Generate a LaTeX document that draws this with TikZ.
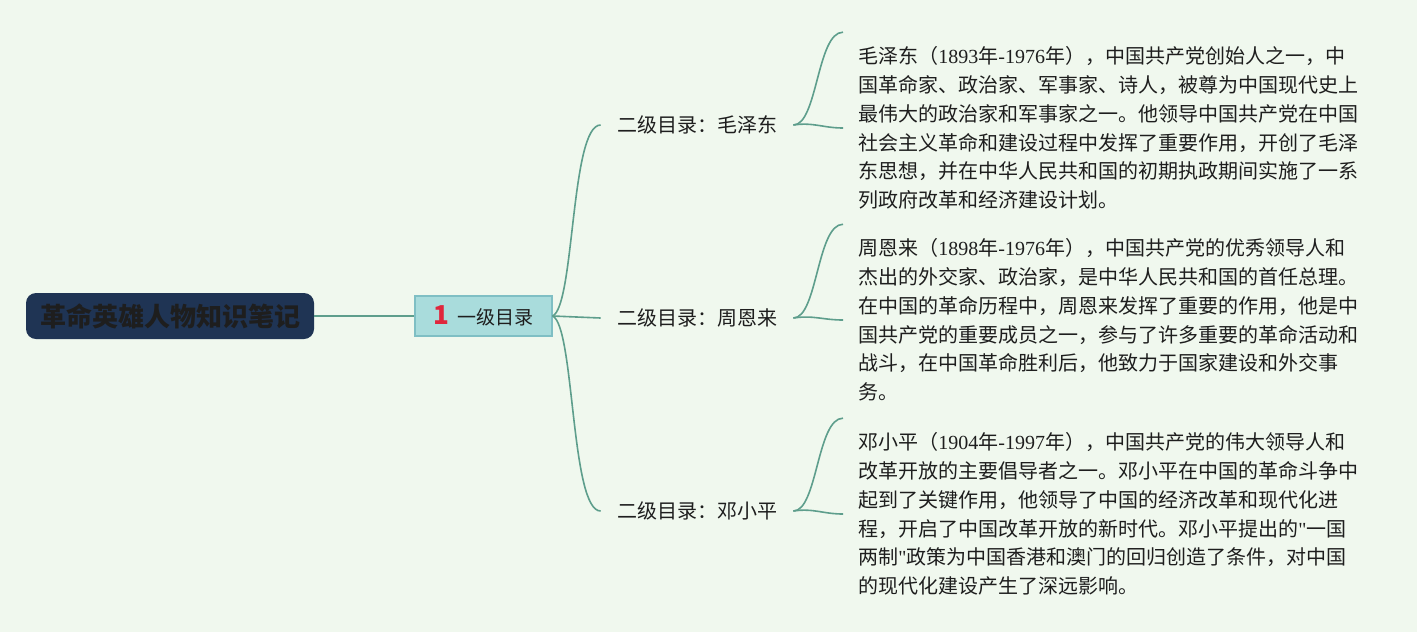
\documentclass[tikz,border=0pt]{standalone}
\usepackage{fontspec}
\setmainfont{Noto Sans CJK SC}
\newfontfamily\numfont{Liberation Serif}
\usetikzlibrary{positioning}

\definecolor{bgmint}{HTML}{F0F8EE}
\definecolor{linegreen}{HTML}{5E9E8C}
\definecolor{rootnavy}{HTML}{1F3454}
\definecolor{lvlfill}{HTML}{A9DCDC}
\definecolor{lvlborder}{HTML}{7FBFC4}
\definecolor{numred}{HTML}{E0263C}
\definecolor{textdark}{HTML}{1E1E1E}

\newcommand{\yr}[1]{{\numfont #1}}
\newcommand{\sq}{{\numfont"}}

\begin{document}
\begin{tikzpicture}[x=0.5pt, y=-0.5pt,
  branch/.style={draw=linegreen, line width=0.8pt},
  rootbox/.style={fill=rootnavy, rounded corners=5pt, minimum width=144pt,
    minimum height=23pt, font=\fontsize{13}{13}\selectfont\bfseries, text=textdark},
  lvlbox/.style={fill=lvlfill, draw=lvlborder, line width=0.6pt, minimum width=68.5pt,
    minimum height=20pt, font=\fontsize{9.5}{9.5}\selectfont, text=textdark},
  sublabel/.style={inner xsep=8pt, inner ysep=3pt, font=\fontsize{10}{10}\selectfont, text=textdark},
  txtblock/.style={anchor=west, align=left, inner xsep=7.5pt, inner ysep=7pt,
    font=\fontsize{10}{14.4}\selectfont, text=textdark}]

  % background
  \fill[bgmint] (0,0) rectangle (1417,632);
  \useasboundingbox (0,0) rectangle (1417,632);

  % root and first level
  \node[rootbox] (root) at (170,316) {革命英雄人物知识笔记};
  \node[lvlbox] (lvl) at (483.5,316) {{\color{numred}\fontsize{13}{13}\selectfont\bfseries 1}\hspace{4pt}一级目录};
  \draw[branch] (root.east) -- (lvl.west);

  % second level labels
  \node[sublabel] (sub1) at (697,125) {二级目录：毛泽东};
  \node[sublabel] (sub2) at (697,318) {二级目录：周恩来};
  \node[sublabel] (sub3) at (697,511) {二级目录：邓小平};

  \draw[branch] (lvl.east) .. controls +(22,-10) and +(-30,0) .. (sub1.west);
  \draw[branch] (lvl.east) -- (sub2.west);
  \draw[branch] (lvl.east) .. controls +(22,10) and +(-30,0) .. (sub3.west);

  % text blocks
  \node[txtblock] (txt1) at (843,128) {毛泽东（\yr{1893}年\yr{-1976}年），中国共产党创始人之一，中\\
    国革命家、政治家、军事家、诗人，被尊为中国现代史上\\
    最伟大的政治家和军事家之一。他领导中国共产党在中国\\
    社会主义革命和建设过程中发挥了重要作用，开创了毛泽\\
    东思想，并在中华人民共和国的初期执政期间实施了一系\\
    列政府改革和经济建设计划。};
  \node[txtblock] (txt2) at (843,320) {周恩来（\yr{1898}年\yr{-1976}年），中国共产党的优秀领导人和\\
    杰出的外交家、政治家，是中华人民共和国的首任总理。\\
    在中国的革命历程中，周恩来发挥了重要的作用，他是中\\
    国共产党的重要成员之一，参与了许多重要的革命活动和\\
    战斗，在中国革命胜利后，他致力于国家建设和外交事\\
    务。};
  \node[txtblock] (txt3) at (843,514) {邓小平（\yr{1904}年\yr{-1997}年），中国共产党的伟大领导人和\\
    改革开放的主要倡导者之一。邓小平在中国的革命斗争中\\
    起到了关键作用，他领导了中国的经济改革和现代化进\\
    程，开启了中国改革开放的新时代。邓小平提出的\sq 一国\\
    两制\sq 政策为中国香港和澳门的回归创造了条件，对中国\\
    的现代化建设产生了深远影响。};

  % braces to text blocks
  \foreach \i in {1,2,3} {
    \draw[branch] (sub\i.east) .. controls +(24,0) and +(-26,0) .. (txt\i.north west);
    \draw[branch] (sub\i.east) .. controls +(20,-3) and +(-20,0) .. (txt\i.west);
  }

\end{tikzpicture}
\end{document}
